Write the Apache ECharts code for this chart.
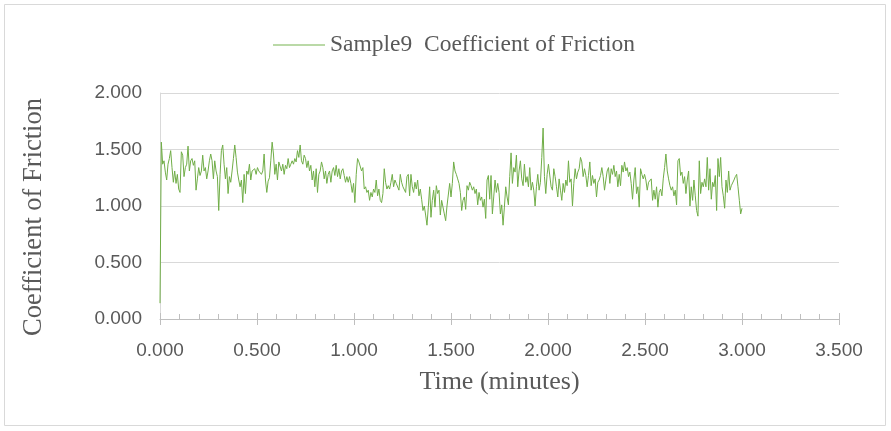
<!DOCTYPE html>
<html>
<head>
<meta charset="utf-8">
<script src="https://cdn.jsdelivr.net/npm/echarts@6/dist/echarts.min.js"></script>
<style>
  html, body { margin: 0; padding: 0; background: #fff; }
  #chart { width: 891px; height: 431px; }
</style>
</head>
<body>
<div id="chart"></div>
<script>
// samples are evenly spaced in time, 0 .. 3.0 min
const sampleStep = 3.0 / 436;

// coefficient of friction
const cof = [
  0.14, 1.565, 1.37, 1.40, 1.30, 1.23, 1.37, 1.42, 1.49, 1.34, 1.21, 1.31, 1.20, 1.28, 1.15, 1.12,
  1.48, 1.45, 1.26, 1.34, 1.37, 1.53, 1.31, 1.40, 1.42, 1.36, 1.40, 1.14, 1.24, 1.34, 1.27, 1.31,
  1.45, 1.31, 1.34, 1.24, 1.31, 1.40, 1.46, 1.40, 1.24, 1.40, 1.31, 1.26, 0.96, 1.28, 1.49, 1.54,
  1.37, 1.24, 1.34, 1.11, 1.26, 1.21, 1.31, 1.42, 1.54, 1.43, 1.30, 1.23, 1.17, 1.23, 1.03, 1.28,
  1.11, 1.31, 1.28,
  1.37, 1.23, 1.31, 1.30, 1.33, 1.28, 1.34, 1.31, 1.30, 1.28, 1.31, 1.46, 1.23, 1.12, 1.22, 1.25,
  1.40, 1.565, 1.46, 1.28, 1.37, 1.23, 1.39, 1.40, 1.31, 1.37, 1.28, 1.36, 1.33, 1.42, 1.34, 1.37,
  1.40, 1.37, 1.42, 1.39, 1.49, 1.43, 1.54, 1.40, 1.37, 1.45, 1.42, 1.34, 1.40, 1.31, 1.36, 1.23,
  1.31, 1.17, 1.33, 1.12, 1.28, 1.31, 1.39, 1.34, 1.24, 1.31, 1.20, 1.28, 1.31, 1.21, 1.31, 1.34,
  1.27, 1.36, 1.26, 1.33, 1.24, 1.31, 1.33, 1.27, 1.21, 1.26, 1.21,
  1.26, 1.20, 1.12, 1.20, 1.03, 1.28, 1.42, 1.39, 1.40, 1.31, 1.34, 1.15, 1.17, 1.12, 1.14, 1.05,
  1.12, 1.08, 1.15, 1.12, 1.23, 1.09, 1.15, 1.05, 1.03, 1.11, 1.33, 1.21, 1.15, 1.18, 1.15, 1.21,
  1.28, 1.17, 1.23, 1.20, 1.21, 1.14, 1.28, 1.21, 1.17, 1.18, 1.12, 1.26, 1.28, 1.09, 1.28, 1.17,
  1.12, 1.21, 1.15, 1.23, 1.09, 1.15, 1.06, 0.96, 1.00, 0.92, 0.83, 0.99, 1.17, 0.90, 1.05, 1.14,
  0.99, 1.18, 1.11, 1.14, 0.92, 1.05, 1.06, 0.93, 0.87, 1.00, 1.01,
  1.20, 1.08, 1.20, 1.39, 1.31, 1.28, 1.24, 1.20, 1.12, 0.96, 1.05, 1.08, 0.97, 1.18, 1.14, 1.21,
  1.18, 1.14, 1.17, 1.11, 1.15, 1.01, 1.12, 1.05, 1.08, 0.99, 1.06, 0.89, 1.23, 1.27, 1.06, 1.27,
  0.93, 1.08, 1.23, 1.12, 1.20, 1.12, 0.93, 1.01, 0.83, 0.99, 1.17, 1.08, 1.01, 1.26, 1.47, 1.20,
  1.34, 1.30, 1.45, 1.17, 1.31, 1.40, 1.24, 1.18, 1.37, 1.21, 1.26, 1.17, 1.34, 1.14, 1.21, 1.14,
  1.00, 1.17, 1.28, 1.14, 1.21, 1.43, 1.69, 1.26, 1.11, 1.28, 1.37,
  1.37, 1.17, 1.14, 1.33, 1.26, 1.17, 1.08, 1.24, 1.14, 1.05, 1.20, 1.12, 1.23, 1.18, 1.40, 1.21,
  1.24, 1.00, 1.20, 1.33, 1.24, 1.30, 1.33, 1.43, 1.39, 1.26, 1.33, 1.27, 1.17, 1.27, 1.39, 1.18,
  1.27, 1.20, 1.24, 1.08, 1.21, 1.23, 1.27, 1.34, 1.26, 1.14, 1.23, 1.31, 1.34, 1.20, 1.33, 1.28,
  1.36, 1.26, 1.31, 1.17, 1.28, 1.18, 1.36, 1.30, 1.39, 1.31, 1.34, 1.26, 1.30, 1.20, 1.06, 1.23,
  1.34, 1.11, 1.17, 0.99, 1.33, 1.28, 1.24, 1.28, 1.23, 1.14, 1.21,
  1.20, 1.24, 1.05, 1.14, 1.06, 1.17, 0.99, 1.12, 1.15, 1.09, 1.24, 1.34, 1.46, 1.31, 1.24, 1.18,
  1.14, 1.17, 1.09, 1.14, 1.01, 1.40, 1.42, 1.27, 1.30, 1.20, 1.26, 1.11, 1.23, 1.31, 1.00, 1.17,
  1.05, 1.23, 1.09, 0.96, 0.91, 1.40, 1.11, 1.21, 1.17, 1.24, 1.17, 1.43, 1.14, 1.33, 1.06, 1.21,
  1.17, 1.27, 0.96, 1.42, 1.26, 1.43, 1.17, 1.09, 0.98, 1.23, 1.12, 1.31, 1.14, 1.18, 1.17, 1.23,
  1.26, 1.28, 1.17, 1.05, 0.93, 0.98
];

const seriesName = "Sample9  Coefficient of Friction";
const xRange = [0, 3.5];
const yRange = [0, 2];

const points = cof.map((v, i) => [i * sampleStep, v]);

const chart = echarts.init(document.getElementById("chart"));

const tickFont = "'Liberation Sans Narrow', 'Liberation Sans', sans-serif";
const serifFont = "'Liberation Serif', 'DejaVu Serif', serif";

chart.setOption({
  animation: false,
  graphic: [
    {
      type: "rect",
      shape: { x: 4.5, y: 4.5, width: 881, height: 421 },
      style: { fill: "none", stroke: "#d9d9d9", lineWidth: 1 },
    },
  ],
  legend: {
    data: [seriesName],
    left: 268,
    top: 28,
    icon: "rect",
    itemWidth: 52,
    itemHeight: 1.5,
    itemGap: 4,
    itemStyle: { color: "#a3cc8a" },
    textStyle: { fontFamily: serifFont, fontSize: 23.5, color: "#595959" },
  },
  grid: { left: 160, right: 52, top: 93, bottom: 112 },
  xAxis: [
    {
      type: "value",
      min: xRange[0],
      max: xRange[1],
      interval: 0.5,
      name: "Time (minutes)",
      nameLocation: "middle",
      nameGap: 50,
      nameTextStyle: { fontFamily: serifFont, fontSize: 26, color: "#595959" },
      axisLine: { show: true, lineStyle: { color: "#bfbfbf", width: 1 } },
      axisTick: { show: true, inside: true, length: 6, lineStyle: { color: "#bfbfbf" } },
      minorTick: { show: true, splitNumber: 5, length: 5, lineStyle: { color: "#bfbfbf" } },
      splitLine: { show: false },
      axisLabel: {
        margin: 22,
        fontFamily: tickFont,
        fontSize: 19,
        color: "#595959",
        formatter: (v) => v.toFixed(3),
      },
    },
    {
      // outer half of the crossing major ticks
      type: "value",
      position: "bottom",
      min: xRange[0],
      max: xRange[1],
      interval: 0.5,
      axisLine: { show: false },
      axisTick: { show: true, inside: false, length: 6, lineStyle: { color: "#bfbfbf" } },
      axisLabel: { show: false },
      splitLine: { show: false },
    },
  ],
  yAxis: {
    type: "value",
    min: yRange[0],
    max: yRange[1],
    interval: 0.5,
    name: "Coefficient of Friction",
    nameLocation: "middle",
    nameGap: 112,
    nameTextStyle: {
      fontFamily: serifFont,
      fontSize: 26.5,
      color: "#595959",
      padding: [0, 22, 0, 0],
    },
    axisLine: { show: true, lineStyle: { color: "#d9d9d9" } },
    axisTick: { show: false },
    splitLine: { lineStyle: { color: "#d9d9d9", width: 1 } },
    axisLabel: {
      margin: 18,
      fontFamily: tickFont,
      fontSize: 19,
      color: "#595959",
      formatter: (v) => v.toFixed(3),
    },
  },
  series: [
    {
      name: seriesName,
      type: "line",
      xAxisIndex: 0,
      data: points,
      showSymbol: false,
      symbol: "none",
      lineStyle: { color: "#70ad47", width: 1 },
      itemStyle: { color: "#70ad47" },
    },
  ],
});
</script>
</body>
</html>
